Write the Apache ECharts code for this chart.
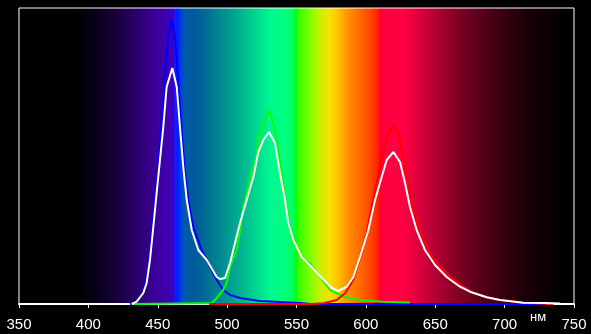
<!DOCTYPE html>
<html><head><meta charset="utf-8">
<script src="https://cdn.jsdelivr.net/npm/echarts@6/dist/echarts.min.js"></script>
<style>html,body{margin:0;padding:0;background:#000}#c{width:591px;height:334px}</style>
</head><body><div id="c"></div>
<script>
const xTicks = [350,400,450,500,550,600,650,700,750];
const unitLabel = 'нм';

const blueData = [[430,0],[433.6,0.7],[439.6,11],[443.2,37],[445.6,71],[448,104],[450.4,137],[452.1,171],[454,204],[456,244],[457.6,267],[460.1,285],[462.4,267],[464.8,221],[467.3,171],[469.6,131],[472,104],[475.6,77],[481.7,54],[487.7,37],[492.5,24],[497.2,14],[502.1,9],[509.3,6],[523.7,3],[552.5,1],[560,0],[730,0]];
const greenData = [[433,0],[480.5,0.7],[487.7,0.7],[490,2.3],[492.5,6],[497.2,14],[499.7,21],[502.1,37],[506.9,54],[509.3,74],[511.7,97],[514.1,111],[517.7,131],[521.3,147],[523.7,171],[527.3,184],[530.2,194],[533.3,181],[536.2,161],[539.3,131],[542.9,97],[546.5,67],[550.1,54],[556.1,44],[559.7,41],[566.9,27],[574.1,14],[583.7,7.3],[595.8,4],[612.6,2.3],[631.8,1.5]];
const redData = [[487,0],[560,0],[569.3,0.7],[579,4],[585,10.7],[590.9,24],[597,51],[600.6,71],[604.2,97],[607.8,121],[611.4,144],[615,167],[619.3,179],[623.4,171],[627,147],[630.6,121],[634.2,97],[639,74],[645,54],[652.2,39],[660.6,27],[670.2,17.3],[677.4,10.7],[687.1,6.7],[696.7,4],[713.5,1.3],[730.3,0.3],[735,0]];
const whiteData = [[431.2,0],[434.8,2.3],[439.6,11],[442,21],[444.4,44],[446.8,77],[449.2,111],[451.6,144],[454,177],[456.4,217],[460.5,236],[463.7,217],[466,177],[468.4,137],[470.9,104],[474.5,74],[479.2,54],[485.3,44],[492.5,27],[494.9,25],[498.5,26],[502.1,41],[505.7,61],[509.3,81],[514.1,104],[518.9,127],[522.5,152],[526.1,164],[530.2,172],[534.5,161],[538.1,131],[541.7,104],[544.1,81],[547.7,64],[553.7,47],[560.9,37],[568.2,26],[575.4,16],[580.1,13],[586.2,17.3],[591,27],[595.8,47],[601.8,74],[606.6,104],[611.4,127],[615,144],[619.8,152],[624.6,142],[628.2,121],[631.8,97],[636.6,74],[642.6,54],[649.8,39],[658.2,27],[667.8,17.3],[675,12.3],[687.1,6.7],[696.7,4],[713.5,1.3],[730.3,1],[739.9,0.5]];

const spectrumStops = [[350,'#000000'],[392,'#000000'],[406,'#08001a'],[423,'#1c0040'],[437,'#2e0070'],[448,'#3a0098'],[457,'#4000b0'],[461.5,'#3a00c0'],[462.4,'#1a1aff'],[464.6,'#0020ff'],[466.8,'#0040e0'],[469.6,'#005aa8'],[477,'#005a9a'],[490,'#007a90'],[509,'#00b090'],[523.7,'#00e090'],[531,'#00f890'],[541.7,'#00ff80'],[548.5,'#00ff50'],[549.6,'#00ff00'],[551,'#30ff00'],[559.7,'#80ff00'],[567,'#c8f000'],[574,'#f8e000'],[580,'#ffc000'],[587,'#ff9000'],[595.5,'#ff6a00'],[604.2,'#ff4000'],[608.7,'#ff2000'],[610,'#ff0030'],[613.8,'#ff0040'],[626,'#ff0040'],[632,'#f00040'],[646,'#c00038'],[660.6,'#900028'],[675,'#680020'],[689.5,'#480015'],[704,'#2e000c'],[718,'#180005'],[733,'#080002'],[743,'#000000'],[750,'#000000']];

const chart = echarts.init(document.getElementById('c'));
const xMin = xTicks[0], xMax = xTicks[xTicks.length-1];
const grad = new echarts.graphic.LinearGradient(0,0,1,0,
  spectrumStops.map(s => ({offset:(s[0]-xMin)/(xMax-xMin), color:s[1]})));
function line(data, color){
  return {type:'line', data:data, symbol:'none', smooth:false, animation:false,
    lineStyle:{color:color, width:2}, itemStyle:{color:color}};
}
chart.setOption({
  backgroundColor:'#000',
  animation:false,
  grid:{left:19, right:17, top:8, bottom:30, show:true, backgroundColor:grad, borderColor:'#fff', borderWidth:1},
  xAxis:{type:'value', min:xMin, max:xMax, interval:50,
    axisLine:{show:true, lineStyle:{color:'#fff', width:2}},
    axisTick:{show:true, length:4, lineStyle:{color:'#fff', width:1}},
    axisLabel:{color:'#fff', fontFamily:'"Liberation Sans Narrow", "Liberation Sans", sans-serif', fontSize:15, margin:13},
    splitLine:{show:false}},
  yAxis:{type:'value', min:0, max:296, show:false, splitLine:{show:false}},
  series:[line(blueData,'#0000ff'), line(greenData,'#00ff00'), line(redData,'#ff0000'), line(whiteData,'#ffffff')],
  graphic:[{type:'text', left:530, top:311, style:{text:unitLabel, fill:'#fff', font:'13px "Liberation Sans"'}}]
});
</script></body></html>
